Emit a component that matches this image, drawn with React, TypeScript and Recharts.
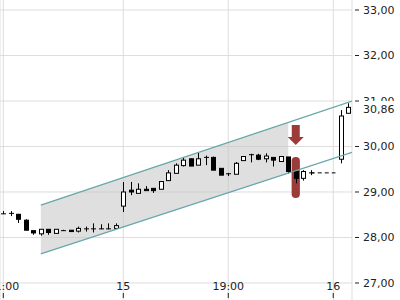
import React from 'react';
import {
  ComposedChart,
  Bar,
  Line,
  Area,
  XAxis,
  YAxis,
  CartesianGrid,
  ReferenceArea,
  ReferenceDot,
} from 'recharts';

// candle index -> OHLC (null = no trading)
const opens = [
  28.52, 28.53, 28.51, 28.38, 28.15, 28.08, 28.18, 28.09, 28.15, 28.16,
  28.14, 28.19, 28.19, 28.19, 28.19, 28.2, 28.69, 29.04, 28.97, 29.06,
  29.08, 29.06, 29.25, 29.41, 29.58, 29.73, 29.59, 29.76, 29.76, 29.52,
  29.4, 29.39, 29.69, 29.82, 29.81, 29.73, 29.76, 29.67, 29.77, 29.45,
  29.3, 29.42, null, null, null, 29.72, 30.73,
];
const highs = [
  28.58, 28.58, 28.52, 28.4, 28.15, 28.18, 28.18, 28.18, 28.17, 28.16,
  28.24, 28.24, 28.31, 28.29, 28.31, 28.31, 29.22, 29.22, 29.19, 29.13,
  29.08, 29.23, 29.48, 29.63, 29.75, 29.73, 29.86, 29.8, 29.78, 29.52,
  29.42, 29.66, 29.78, 29.84, 29.84, 29.85, 29.76, 29.78, 29.77, 29.48,
  29.48, 29.48, null, null, null, 30.8, 30.95,
];
const lows = [
  28.52, 28.47, 28.32, 28.16, 28.06, 28.04, 28.06, 28.09, 28.15, 28.13,
  28.11, 28.13, 28.11, 28.18, 28.18, 28.2, 28.56, 28.93, 28.97, 29.03,
  28.98, 29.06, 29.25, 29.41, 29.56, 29.57, 29.59, 29.59, 29.48, 29.37,
  29.35, 29.39, 29.69, 29.65, 29.7, 29.65, 29.56, 29.67, 29.41, 29.19,
  29.25, 29.37, null, null, null, 29.63, 30.73,
];
const closes = [
  28.52, 28.53, 28.4, 28.16, 28.1, 28.18, 28.11, 28.18, 28.15, 28.13,
  28.2, 28.19, 28.19, 28.19, 28.19, 28.26, 29.0, 29.0, 29.06, 29.03,
  29.03, 29.23, 29.42, 29.59, 29.7, 29.57, 29.73, 29.76, 29.48, 29.37,
  29.38, 29.63, 29.78, 29.81, 29.72, 29.79, 29.7, 29.78, 29.45, 29.3,
  29.45, 29.42, null, null, null, 30.67, 30.86,
];

const xTicks = [0, 16, 30, 44];
const xTickLabels = ['11:00', '15', '19:00', '16'];
const yTicks = [27, 28, 29, 30, 31, 32, 33];

// trend channel end points (index, value)
const upperLine = [
  { i: 5, v: 28.71 },
  { i: 46.5, v: 31.0 },
];
const lowerLine = [
  { i: 5, v: 27.64 },
  { i: 46.5, v: 29.87 },
];
const channelFill = [
  { i: 5, band: [27.64, 28.71] },
  { i: 38, band: [29.41, 30.53] },
];
const lastLine = [
  { i: 41, v: 29.42 },
  { i: 44.3, v: 29.42 },
];

const lastClose = closes[closes.length - 1] as number;

const candles = opens.map((o, i) => ({
  i,
  o,
  h: highs[i],
  l: lows[i],
  c: closes[i],
  range: o == null ? null : [lows[i], highs[i]],
}));

const font = '"DejaVu Sans", Verdana, sans-serif';

function Candle(props: any) {
  let { x, y, width, height, payload } = props;
  if (payload.o == null || height == null) return null;
  if (height < 0) {
    y += height;
    height = -height;
  }
  const { o, h, l, c } = payload;
  const k = height / (h - l);
  const py = (v: number) => y + (h - v) * k;
  const cx = Math.round(x + width / 2) + 0.5;
  const top = py(Math.max(o, c));
  const bot = py(Math.min(o, c));
  const up = c >= o;
  return (
    <g>
      <line x1={cx} x2={cx} y1={y} y2={y + height} stroke="#000" />
      {bot - top < 1 ? (
        <line x1={cx - 2.5} x2={cx + 2.5} y1={top} y2={top} stroke="#000" />
      ) : (
        <rect
          x={cx - 2}
          y={top}
          width={4}
          height={bot - top}
          fill={up ? '#fff' : '#000'}
          stroke="#000"
        />
      )}
    </g>
  );
}

function XTick(props: any) {
  const { x, payload } = props;
  const idx = xTicks.indexOf(payload.value);
  return (
    <g>
      <text x={x} y={290} textAnchor="middle" fontSize={11} fontFamily={font} fill="#222">
        {xTickLabels[idx]}
      </text>
      <line x1={x} x2={x} y1={293} y2={298} stroke="#222" />
    </g>
  );
}

function YTick(props: any) {
  const { x, y, payload } = props;
  const v = payload.value;
  if (v === lastClose) {
    return (
      <g>
        <rect x={x + 7} y={y - 6.5} width={41} height={18} fill="#fff" />
        <text x={x + 11} y={y + 2} dy="0.35em" fontSize={11} fontFamily={font} fill="#222">
          {v.toFixed(2).replace('.', ',')}
        </text>
      </g>
    );
  }
  return (
    <g>
      <line x1={x + 3} x2={x + 7} y1={y} y2={y} stroke="#222" />
      <text x={x + 11} y={y} dy="0.35em" fontSize={11} fontFamily={font} fill="#222">
        {v.toFixed(2).replace('.', ',')}
      </text>
    </g>
  );
}

function Arrow(props: any) {
  const { cx, cy } = props;
  const d = `M${cx - 4} ${cy - 10} L${cx + 4} ${cy - 10} L${cx + 4} ${cy + 2} L${cx + 8} ${cy + 2} L${cx} ${cy + 10} L${cx - 8} ${cy + 2} L${cx - 4} ${cy + 2} Z`;
  return <path d={d} fill="#9c3b37" />;
}

function Highlight(props: any) {
  const { x, y, width, height } = props;
  return <rect x={x} y={y} width={width} height={height} rx={4} fill="#9c3b37" />;
}

export default function App() {
  return (
    <div style={{ position: 'absolute', left: 0, top: 0 }}>
      <ComposedChart
        width={400}
        height={300}
        data={candles}
        margin={{ top: 0, right: 0, bottom: 0, left: 0 }}
      >
        <CartesianGrid stroke="#dddddd" horizontalValues={yTicks} />
        <XAxis
          dataKey="i"
          type="number"
          domain={[-0.44, 46.5]}
          allowDataOverflow
          ticks={xTicks}
          interval={0}
          mirror
          axisLine={false}
          tickLine={false}
          tick={<XTick />}
        />
        <YAxis
          orientation="right"
          width={48}
          domain={[26.626, 33.22]}
          allowDataOverflow
          ticks={[...yTicks, lastClose]}
          interval={0}
          axisLine={false}
          tickLine={false}
          tickSize={0}
          tickMargin={0}
          tick={<YTick />}
        />
        <Area
          data={channelFill}
          dataKey="band"
          type="linear"
          stroke="none"
          fill="#c4c4c4"
          fillOpacity={0.55}
          activeDot={false}
          isAnimationActive={false}
        />
        <Line data={upperLine} dataKey="v" type="linear" stroke="#66a6aa" strokeWidth={1.2} dot={false} activeDot={false} isAnimationActive={false} />
        <Line data={lowerLine} dataKey="v" type="linear" stroke="#66a6aa" strokeWidth={1.2} dot={false} activeDot={false} isAnimationActive={false} />
        <ReferenceArea x1={38.45} x2={39.55} y1={28.87} y2={29.77} shape={<Highlight />} ifOverflow="visible" />
        <Bar dataKey="range" barSize={5} shape={<Candle />} activeBar={false} isAnimationActive={false} />
        <Line data={lastLine} dataKey="v" type="linear" stroke="#000" strokeDasharray="4 3" dot={false} activeDot={false} isAnimationActive={false} />
        <ReferenceDot x={39} y={30.253} r={8} shape={<Arrow />} ifOverflow="visible" />
      </ComposedChart>
    </div>
  );
}
